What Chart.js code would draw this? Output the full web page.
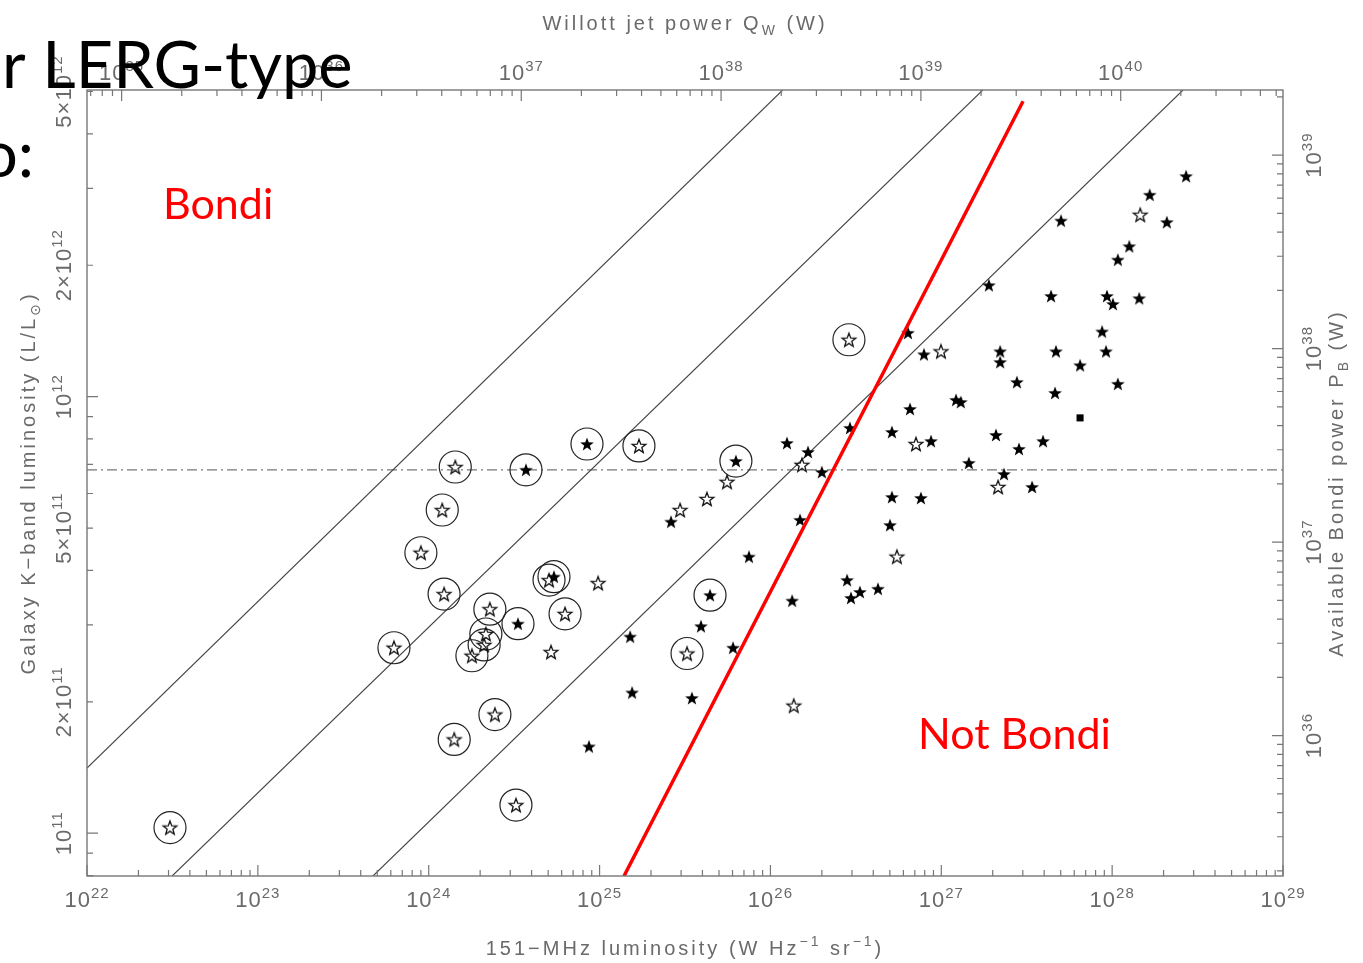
<!DOCTYPE html>
<html>
<head>
<meta charset="utf-8">
<title>LERG jet power vs Bondi power</title>
<script src="https://cdn.jsdelivr.net/npm/chart.js@4.4.0/dist/chart.umd.min.js"></script>
<style>
  html, body { margin: 0; padding: 0; background: #fff; }
  #wrap { width: 1363px; height: 963px; }
</style>
</head>
<body>
<div id="wrap"><canvas id="plot" width="1363" height="963"></canvas></div>
<script>
// 151-MHz luminosity (W Hz^-1 sr^-1) against galaxy K-band luminosity (L/Lsun)

// circled sources, open and filled stars
const circledOpen = [
  [3.06e22, 1.03e11], [6.26e23, 2.66e11], [9.0e23, 4.39e11], [1.20e24, 5.50e11],
  [1.43e24, 6.90e11], [1.23e24, 3.53e11], [1.41e24, 1.64e11], [2.44e24, 1.87e11],
  [3.24e24, 1.16e11], [1.70e25, 7.71e11], [2.28e24, 3.26e11], [2.16e24, 2.86e11],
  [2.11e24, 2.70e11], [1.79e24, 2.55e11], [5.06e24, 3.80e11], [6.28e24, 3.18e11],
  [3.25e25, 2.58e11], [2.88e26, 1.35e12]
];
const circledFilled = [
  [3.71e24, 6.80e11], [8.44e24, 7.79e11], [3.33e24, 3.02e11], [5.41e24, 3.87e11],
  [4.43e25, 3.51e11], [6.28e25, 7.12e11]
];

// uncircled open stars
const openStars = [
  [9.8e24, 3.74e11], [5.20e24, 2.60e11], [5.57e25, 6.38e11], [4.25e25, 5.83e11],
  [2.96e25, 5.50e11], [1.37e26, 1.96e11], [1.53e26, 6.98e11], [5.50e26, 4.30e11],
  [7.11e26, 7.79e11], [9.96e26, 1.27e12], [2.15e27, 6.21e11], [1.46e28, 2.61e12]
];

// uncircled filled stars
const filledStars = [
  [8.67e24, 1.58e11], [1.51e25, 2.82e11], [1.55e25, 2.10e11], [2.62e25, 5.17e11],
  [3.47e25, 2.04e11], [3.92e25, 2.98e11], [6.04e25, 2.66e11], [7.49e25, 4.30e11],
  [1.34e26, 3.41e11], [1.49e26, 5.22e11], [1.25e26, 7.83e11], [1.66e26, 7.47e11],
  [2.00e26, 6.72e11], [2.92e26, 8.48e11], [2.81e26, 3.80e11], [2.96e26, 3.46e11],
  [3.34e26, 3.57e11], [4.26e26, 3.63e11], [5.01e26, 5.08e11], [5.14e26, 5.89e11],
  [7.60e26, 5.86e11], [5.14e26, 8.30e11], [6.38e26, 1.40e12], [6.56e26, 9.37e11],
  [7.92e26, 1.25e12], [8.71e26, 7.91e11], [1.22e27, 9.83e11], [1.30e27, 9.72e11],
  [1.45e27, 7.05e11], [1.90e27, 1.80e12], [2.09e27, 8.17e11], [2.21e27, 1.27e12],
  [2.21e27, 1.20e12], [2.33e27, 6.65e11], [2.77e27, 1.08e12], [2.85e27, 7.59e11],
  [3.40e27, 6.21e11], [3.94e27, 7.91e11], [4.39e27, 1.70e12], [4.63e27, 1.02e12],
  [4.69e27, 1.27e12], [5.02e27, 2.53e12], [6.49e27, 1.18e12], [8.73e27, 1.41e12],
  [9.21e27, 1.27e12], [9.33e27, 1.70e12], [1.01e28, 1.63e12], [1.08e28, 1.07e12],
  [1.08e28, 2.06e12], [1.26e28, 2.21e12], [1.44e28, 1.68e12], [1.66e28, 2.90e12],
  [2.09e28, 2.51e12], [2.71e28, 3.20e12]
];

const squares = [[6.49e27, 8.94e11]];

// constant Q_W / P_B lines, a decade apart
const ratioLines = [
  [[1e22, 1.41e11], [1.18e26, 5.04e12]],
  [[3.15e22, 7.98e10], [1.75e27, 5.04e12]],
  [[4.72e23, 7.98e10], [2.60e28, 5.04e12]]
];
const bondiDivide = [[1.39e25, 7.98e10], [3.01e27, 4.75e12]];
const kCut = 6.8e11;

// tick labels
const lumLabelExps = [22, 23, 24, 25, 26, 27, 28, 29];
const jetLabelExps = [35, 36, 37, 38, 39, 40];
const bondiLabelExps = [36, 37, 38, 39];
const kLabels = [[1, 11], [2, 11], [5, 11], [1, 12], [2, 12], [5, 12]];

const FONT = '"Liberation Sans", "DejaVu Sans", sans-serif';
const INK = '#6a6a6a';

const pts = arr => arr.map(p => ({x: p[0], y: p[1]}));

function makeStar(filled) {
  const c = document.createElement('canvas');
  c.width = 18; c.height = 18;
  const g = c.getContext('2d');
  g.beginPath();
  for (let i = 0; i < 10; i++) {
    const r = i % 2 ? 3.0 : 7.2;
    const a = -Math.PI / 2 + i * Math.PI / 5;
    g.lineTo(9 + r * Math.cos(a), 9.6 + r * Math.sin(a));
  }
  g.closePath();
  if (filled) {
    g.fillStyle = '#000';
    g.fill();
  } else {
    g.strokeStyle = '#111';
    g.lineWidth = 1.3;
    g.stroke();
  }
  return c;
}

// all 1..9 x 10^n ticks inside the range
function decadeTicks(scale) {
  const ticks = [];
  const lo = Math.floor(Math.log10(scale.min));
  const hi = Math.ceil(Math.log10(scale.max));
  for (let e = lo; e <= hi; e++) {
    for (let m = 1; m <= 9; m++) {
      const v = m * Math.pow(10, e);
      if (v >= scale.min * 0.9999 && v <= scale.max * 1.0001) {
        ticks.push({value: v, major: m === 1});
      }
    }
  }
  scale.ticks = ticks;
}

function drawParts(ctx, parts, x, y, align) {
  let w = 0;
  parts.forEach(p => {
    ctx.font = p.size + 'px ' + FONT;
    p.w = ctx.measureText(p.text).width;
    w += p.w;
  });
  let cx = align === 'center' ? x - w / 2 : x;
  parts.forEach(p => {
    ctx.font = p.size + 'px ' + FONT;
    ctx.fillText(p.text, cx, y - (p.rise || 0));
    cx += p.w;
  });
}

function powerLabel(m, e) {
  return [
    {text: (m === 1 ? '' : m + '×') + '10', size: 22},
    {text: String(e), size: 15, rise: 9}
  ];
}

const axesPlugin = {
  id: 'pgAxes',
  afterDraw(chart) {
    const {ctx, chartArea: a, scales} = chart;
    ctx.save();
    ctx.strokeStyle = '#777';
    ctx.lineWidth = 1.4;
    ctx.strokeRect(a.left, a.top, a.right - a.left, a.bottom - a.top);

    // tick marks point into the plot
    ctx.lineWidth = 1.2;
    ctx.beginPath();
    scales.x.ticks.forEach(t => {
      const p = scales.x.getPixelForValue(t.value);
      ctx.moveTo(p, a.bottom); ctx.lineTo(p, a.bottom - (t.major ? 11 : 6));
    });
    scales.x2.ticks.forEach(t => {
      const p = scales.x2.getPixelForValue(t.value);
      ctx.moveTo(p, a.top); ctx.lineTo(p, a.top + (t.major ? 11 : 6));
    });
    scales.y.ticks.forEach(t => {
      const p = scales.y.getPixelForValue(t.value);
      ctx.moveTo(a.left, p); ctx.lineTo(a.left + (t.major ? 11 : 6), p);
    });
    scales.y2.ticks.forEach(t => {
      const p = scales.y2.getPixelForValue(t.value);
      ctx.moveTo(a.right, p); ctx.lineTo(a.right - (t.major ? 11 : 6), p);
    });
    ctx.stroke();

    ctx.fillStyle = INK;
    ctx.textBaseline = 'alphabetic';
    ctx.letterSpacing = '1px';
    lumLabelExps.forEach(e => {
      drawParts(ctx, powerLabel(1, e), scales.x.getPixelForValue(Math.pow(10, e)), 907, 'center');
    });
    jetLabelExps.forEach(e => {
      drawParts(ctx, powerLabel(1, e), scales.x2.getPixelForValue(Math.pow(10, e)), 80, 'center');
    });
    kLabels.forEach(([m, e]) => {
      ctx.save();
      ctx.translate(71, scales.y.getPixelForValue(m * Math.pow(10, e)));
      ctx.rotate(-Math.PI / 2);
      drawParts(ctx, powerLabel(m, e), 0, 0, 'center');
      ctx.restore();
    });
    bondiLabelExps.forEach(e => {
      ctx.save();
      ctx.translate(1321, scales.y2.getPixelForValue(Math.pow(10, e)));
      ctx.rotate(-Math.PI / 2);
      drawParts(ctx, powerLabel(1, e), 0, 0, 'center');
      ctx.restore();
    });

    // axis titles
    ctx.letterSpacing = '3px';
    drawParts(ctx, [
      {text: '151−MHz luminosity (W Hz', size: 20},
      {text: '−1', size: 14, rise: 9},
      {text: ' sr', size: 20},
      {text: '−1', size: 14, rise: 9},
      {text: ')', size: 20}
    ], (a.left + a.right) / 2, 955, 'center');
    drawParts(ctx, [
      {text: 'Willott jet power Q', size: 20},
      {text: 'W', size: 14, rise: -5},
      {text: ' (W)', size: 20}
    ], (a.left + a.right) / 2, 30, 'center');
    ctx.save();
    ctx.translate(35, (a.top + a.bottom) / 2);
    ctx.rotate(-Math.PI / 2);
    drawParts(ctx, [
      {text: 'Galaxy K−band luminosity (L/L', size: 20},
      {text: '⊙', size: 14, rise: -5},
      {text: ')', size: 20}
    ], 0, 0, 'center');
    ctx.restore();
    ctx.save();
    ctx.translate(1343, (a.top + a.bottom) / 2);
    ctx.rotate(-Math.PI / 2);
    drawParts(ctx, [
      {text: 'Available Bondi power P', size: 20},
      {text: 'B', size: 14, rise: -5},
      {text: ' (W)', size: 20}
    ], 0, 0, 'center');
    ctx.restore();

    // slide annotations over the figure
    ctx.letterSpacing = '0px';
    ctx.fillStyle = '#000';
    ctx.font = '65px Lato, "Open Sans", sans-serif';
    ctx.fillText('r LERG-type', 2, 88);
    ctx.fillText('o:', -19, 177);
    ctx.fillStyle = '#ff0000';
    ctx.font = '43px Lato, "Open Sans", sans-serif';
    ctx.fillText('Bondi', 163, 219);
    ctx.fillText('Not Bondi', 918, 749);
    ctx.restore();
  }
};

const lineSet = (seg, color, width, order, dash) => ({
  type: 'scatter',
  data: pts(seg),
  showLine: true,
  borderColor: color,
  borderWidth: width,
  borderDash: dash || [],
  pointRadius: 0,
  order: order
});

const datasets = [];
ratioLines.forEach(seg => datasets.push(lineSet(seg, '#444', 1.1, 5)));
datasets.push(lineSet([[1e22, kCut], [1e29, kCut]], '#777', 1.2, 5, [10, 4, 2, 4]));
datasets.push({
  data: pts(circledOpen.concat(circledFilled)),
  pointStyle: 'circle', pointRadius: 16,
  borderColor: '#222', borderWidth: 1.2,
  backgroundColor: 'rgba(0,0,0,0)', order: 3
});
datasets.push({
  data: pts(openStars.concat(circledOpen)),
  pointStyle: makeStar(false), order: 2
});
datasets.push({
  data: pts(filledStars.concat(circledFilled)),
  pointStyle: makeStar(true), order: 1
});
datasets.push({
  data: pts(squares),
  pointStyle: 'rect', pointRadius: 5,
  backgroundColor: '#000', borderColor: '#000', borderWidth: 0, order: 1
});
datasets.push(lineSet(bondiDivide, '#ff0000', 3.5, 0));

const logAxis = (position, min, max) => ({
  type: 'logarithmic',
  position: position,
  display: false,
  min: min,
  max: max,
  ticks: {autoSkip: false},
  afterBuildTicks: decadeTicks
});

new Chart(document.getElementById('plot'), {
  type: 'scatter',
  data: {datasets: datasets},
  options: {
    responsive: false,
    devicePixelRatio: 1,
    animation: false,
    events: [],
    layout: {padding: {left: 87, right: 80, top: 90, bottom: 87}},
    plugins: {legend: {display: false}, tooltip: {enabled: false}},
    scales: {
      x: logAxis('bottom', 1e22, 1e29),
      y: logAxis('left', 7.98e10, 5.04e12),
      x2: logAxis('top', 6.71e34, 6.49e40),
      y2: logAxis('right', 1.88e35, 2.17e39)
    }
  },
  plugins: [axesPlugin]
});
</script>
</body>
</html>
